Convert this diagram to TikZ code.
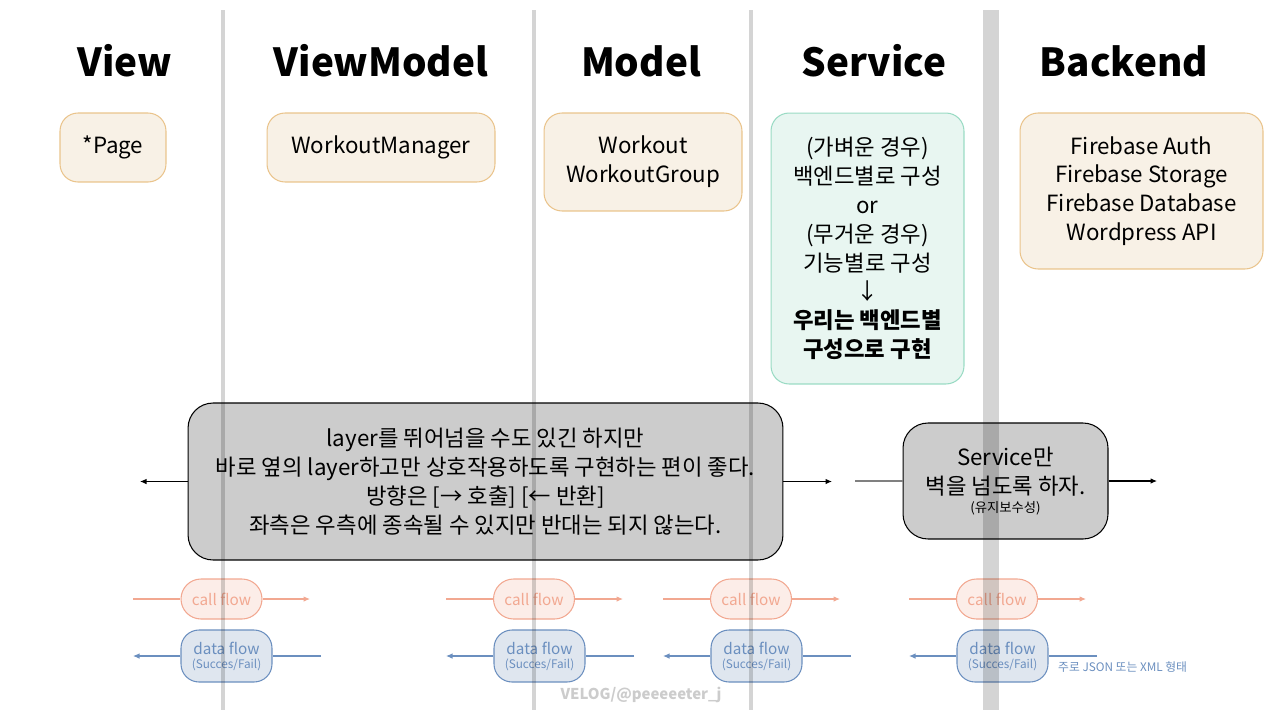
\documentclass[tikz,border=0pt]{standalone}
\usepackage{fontspec}
\setmainfont{Noto Sans CJK KR}
\usetikzlibrary{arrows.meta}
\definecolor{boxfill}{HTML}{F8F1E6}
\definecolor{boxline}{HTML}{EAC48C}
\definecolor{svcfill}{HTML}{E8F6F1}
\definecolor{svcline}{HTML}{9ADBC4}
\definecolor{callline}{HTML}{F2A891}
\definecolor{callfill}{HTML}{FCEDE8}
\definecolor{dataline}{HTML}{6B8FBF}
\definecolor{datafill}{HTML}{DFE6EF}
\definecolor{notefill}{HTML}{CCCCCC}
\newcommand{\bodyfont}{\fontsize{12.7}{16.4}\selectfont}

\begin{document}
\begin{tikzpicture}[x=0.02cm, y=-0.02cm, >={Latex[length=1.3mm,width=1.1mm]},
	head/.style={anchor=base, font=\fontsize{22}{26}\selectfont\bfseries},
	layer/.style={draw=boxline, fill=boxfill, line width=0.6pt, rounded corners=0.36cm, align=center, inner sep=0pt, font=\bodyfont},
	notebox/.style={draw, fill=notefill, line width=0.6pt, rounded corners=0.5cm, align=center, inner sep=0pt, font=\bodyfont},
	callflow/.style={draw=callline, fill=callfill, text=callline, line width=0.6pt, rounded corners=0.4cm, minimum width=1.62cm, minimum height=0.8cm, inner sep=0pt, font=\fontsize{8.7}{10}\selectfont},
	dataflow/.style={draw=dataline, fill=datafill, text=dataline, line width=0.6pt, rounded corners=0.36cm, minimum width=1.82cm, minimum height=1.04cm, inner sep=0pt, align=center, font=\fontsize{8.7}{9}\selectfont},
	sub/.style={font=\fontsize{6.7}{8}\selectfont},
	wall/.style={black, opacity=0.17}]
	\useasboundingbox (0,0) rectangle (1280,720);
	% layer titles
	\node[head] (hView) at (125,76) {View};
	\node[head] (hVM) at (381,76) {ViewModel};
	\node[head] (hModel) at (641,76) {Model};
	\node[head] (hService) at (874,76) {Service};
	\node[head] (hBackend) at (1124,76) {Backend};
	% what lives in each layer
	\node[layer, minimum width=2.12cm, minimum height=1.38cm] (page) at (113,147.5) {*Page};
	\node[layer, minimum width=4.56cm, minimum height=1.38cm] (manager) at (381,147.5) {WorkoutManager};
	\node[layer, minimum width=3.96cm, minimum height=1.96cm] (model) at (643,162) {Workout\\WorkoutGroup};
	\node[layer, draw=svcline, fill=svcfill, minimum width=3.86cm, minimum height=5.42cm] (service) at (867.5,248.5)
		{(가벼운 경우)\\백엔드별로 구성\\or\\(무거운 경우)\\기능별로 구성\\↓\\\textbf{우리는 백엔드별}\\\textbf{구성으로 구현}};
	\node[layer, minimum width=4.86cm, minimum height=3.12cm] (backend) at (1141.5,191)
		{Firebase Auth\\Firebase Storage\\Firebase Database\\Wordpress API};
	% notes
	\node[notebox, minimum width=11.9cm, minimum height=3.14cm] (note) at (485.5,481.5)
		{layer를 뛰어넘을 수도 있긴 하지만\\바로 옆의 layer하고만 상호작용하도록 구현하는 편이 좋다.\\방향은 [→ 호출] [← 반환]\\좌측은 우측에 종속될 수 있지만 반대는 되지 않는다.};
	\coordinate (noteL) at (140,481.5);
	\coordinate (noteR) at (832,481.5);
	\draw[->, line width=0.6pt] (note.west) -- (noteL);
	\draw[->, line width=0.6pt] (note.east) -- (noteR);
	\node[notebox, minimum width=4.1cm, minimum height=2.32cm] (svcnote) at (1005.5,481)
		{Service만\\벽을 넘도록 하자.\\[-6pt]{\fontsize{7.6}{8}\selectfont (유지보수성)}};
	\coordinate (svcL) at (855,481);
	\coordinate (svcR) at (1157,481);
	\draw[gray, line width=0.8pt] (svcL) -- (svcnote.west);
	\draw[->, line width=0.6pt] (svcnote.east) -- (svcR);
	% call flow / data flow at each wall
	\node[callflow] (call1) at (221.5,599) {call flow};
	\node[dataflow] (data1) at (226.5,656) {data flow\\[-1pt]{\fontsize{6.7}{8}\selectfont (Succes/Fail)}};
	\coordinate (call1L) at (133,599);
	\coordinate (call1R) at (310,599);
	\coordinate (data1L) at (133,656);
	\coordinate (data1R) at (321,656);
	\draw[callline, line width=0.6pt] (call1L) -- (call1.west);
	\draw[callline, line width=0.6pt, ->] (call1.east) -- (call1R);
	\draw[dataline, line width=0.6pt] (data1R) -- (data1.east);
	\draw[dataline, line width=0.6pt, ->] (data1.west) -- (data1L);
	\node[callflow] (call2) at (534,599) {call flow};
	\node[dataflow] (data2) at (539.5,656) {data flow\\[-1pt]{\fontsize{6.7}{8}\selectfont (Succes/Fail)}};
	\coordinate (call2L) at (446,599);
	\coordinate (call2R) at (623,599);
	\coordinate (data2L) at (446,656);
	\coordinate (data2R) at (634,656);
	\draw[callline, line width=0.6pt] (call2L) -- (call2.west);
	\draw[callline, line width=0.6pt, ->] (call2.east) -- (call2R);
	\draw[dataline, line width=0.6pt] (data2R) -- (data2.east);
	\draw[dataline, line width=0.6pt, ->] (data2.west) -- (data2L);
	\node[callflow] (call3) at (751,599) {call flow};
	\node[dataflow] (data3) at (756.5,656) {data flow\\[-1pt]{\fontsize{6.7}{8}\selectfont (Succes/Fail)}};
	\coordinate (call3L) at (663,599);
	\coordinate (call3R) at (840,599);
	\coordinate (data3L) at (663,656);
	\coordinate (data3R) at (851,656);
	\draw[callline, line width=0.6pt] (call3L) -- (call3.west);
	\draw[callline, line width=0.6pt, ->] (call3.east) -- (call3R);
	\draw[dataline, line width=0.6pt] (data3R) -- (data3.east);
	\draw[dataline, line width=0.6pt, ->] (data3.west) -- (data3L);
	\node[callflow] (call4) at (997,599) {call flow};
	\node[dataflow] (data4) at (1002.5,656) {data flow\\[-1pt]{\fontsize{6.7}{8}\selectfont (Succes/Fail)}};
	\coordinate (call4L) at (909,599);
	\coordinate (call4R) at (1086,599);
	\coordinate (data4L) at (909,656);
	\coordinate (data4R) at (1097,656);
	\draw[callline, line width=0.6pt] (call4L) -- (call4.west);
	\draw[callline, line width=0.6pt, ->] (call4.east) -- (call4R);
	\draw[dataline, line width=0.6pt] (data4R) -- (data4.east);
	\draw[dataline, line width=0.6pt, ->] (data4.west) -- (data4L);
	\node[sub, text=dataline, anchor=west] (format) at (1052,667) {주로 JSON 또는 XML 형태};
	\node[font=\fontsize{8.5}{10}\selectfont\bfseries, text=black!20] (mark) at (641,695) {VELOG/@peeeeeter\_j};
	% walls between layers
	\fill[wall] (221,10) rectangle (225,710);
	\fill[wall] (532,10) rectangle (536,710);
	\fill[wall] (749,10) rectangle (753,710);
	\fill[wall] (983,10) rectangle (999,710);
\end{tikzpicture}
\end{document}
